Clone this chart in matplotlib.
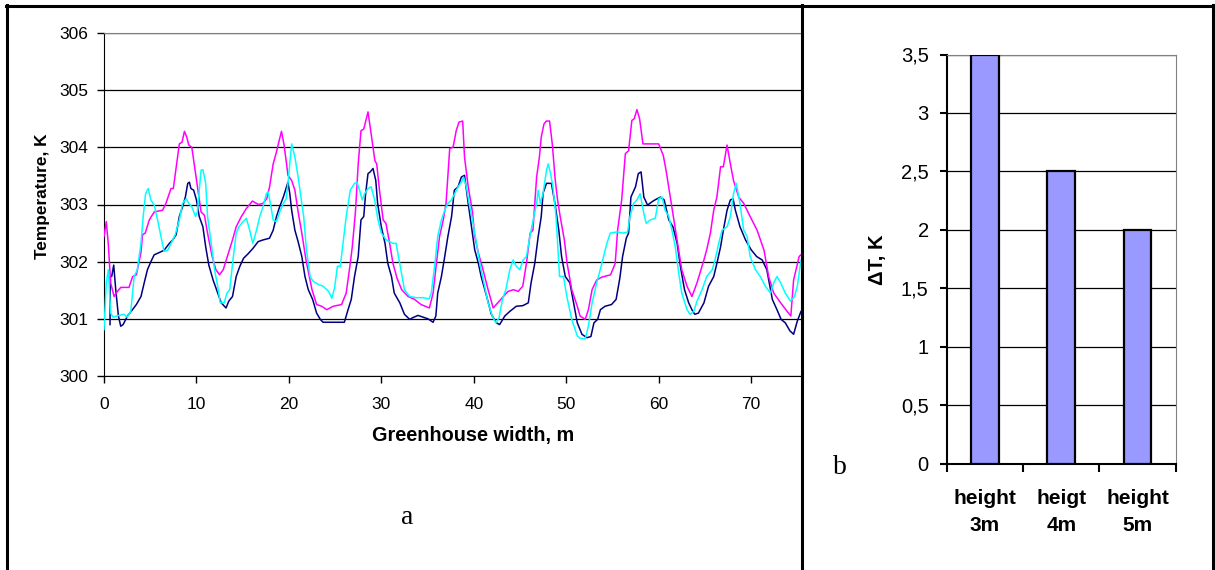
import matplotlib
matplotlib.use("Agg")
import matplotlib.pyplot as plt
from matplotlib.lines import Line2D

plt.rcParams['font.family'] = ['Liberation Sans', 'DejaVu Sans']

# ---------------- data: panel a ----------------
x_magenta = [0, 0.25, 0.47, 0.72, 1.09, 1.45, 1.81, 2.7, 3.1, 3.5, 3.99, 4.17, 4.46, 4.9, 5.43, 6.34, 6.7, 7.25, 7.5,
             8.15, 8.44, 8.7, 8.95, 9.17, 9.5, 9.96, 10.5, 10.87, 11.2, 11.7, 12.1, 12.5, 12.9, 13.4, 13.9, 14.3, 14.86,
             15.4, 16.05, 16.7, 17.2, 17.6, 17.9, 18.3, 18.66, 18.95, 19.2, 19.46, 19.75, 19.9, 20.3, 20.65, 21.0, 21.4,
             21.85, 22.5, 23.0, 23.55, 24.1, 24.8, 25.7, 26.2, 26.6, 26.86, 27.2, 27.5, 27.8, 28.1, 28.56, 28.8, 29.0,
             29.3, 29.5, 29.8, 30.2, 30.5, 30.9, 31.26, 31.7, 32.2, 32.9, 33.6, 34.3, 35.2, 35.6, 35.96, 36.3, 36.7,
             37.0, 37.4, 37.76, 38.1, 38.4, 38.8, 39.0, 39.4, 39.86, 40.1, 40.5, 41.0, 41.55, 42.1, 42.6, 43.2, 43.7,
             44.3, 44.8, 45.3, 45.7, 46.1, 46.4, 46.8, 47.1, 47.3, 47.6, 47.85, 48.2, 48.5, 48.8, 49.05, 49.35, 49.8,
             50.1, 50.6, 51.2, 51.5, 52.06, 52.4, 52.8, 53.3, 53.86, 54.8, 55.3, 55.56, 56.0, 56.4, 56.75, 57.1, 57.36,
             57.65, 57.94, 58.3, 59.1, 60.0, 60.5, 60.8, 61.26, 61.6, 62.06, 62.5, 63.07, 63.6, 64.15, 64.9, 65.2,
             65.6, 65.96, 66.3, 66.7, 67.0, 67.4, 67.76, 68.1, 68.66, 69.2, 69.9, 70.65, 71.4, 71.9, 72.45, 73.2,
             73.9, 74.3, 74.6, 75.2, 75.4]
t_magenta = [302.44, 302.70, 302.3, 301.63, 301.39, 301.48, 301.55, 301.55, 301.74, 301.77, 302.15, 302.47, 302.50,
             302.73, 302.87, 302.9, 303.02, 303.28, 303.28, 304.06, 304.09, 304.28, 304.18, 304.04, 304.0, 303.48,
             302.87, 302.81, 302.5, 302.09, 301.86, 301.77, 301.86, 302.12, 302.38, 302.61, 302.79, 302.93, 303.06,
             303.0, 303.02, 303.1, 303.3, 303.71, 303.92, 304.12, 304.28, 304.06, 303.71, 303.51, 303.42, 303.25,
             302.87, 302.5, 302.03, 301.51, 301.25, 301.22, 301.16, 301.22, 301.25, 301.45, 301.92, 302.26, 302.87,
             303.71, 304.29, 304.32, 304.62, 304.35, 304.12, 303.77, 303.71, 303.25, 302.73, 302.67, 302.32, 301.97,
             301.71, 301.51, 301.39, 301.34, 301.25, 301.19, 301.45, 301.97, 302.44, 302.73, 303.02, 303.98, 304.0,
             304.29, 304.44, 304.46, 303.83, 303.31, 302.87, 302.44, 302.15, 301.86, 301.51, 301.19, 301.28, 301.39,
             301.48, 301.51, 301.48, 301.57, 301.97, 302.5, 302.55, 303.48, 303.83, 304.18, 304.41, 304.46, 304.46,
             304.05, 303.45, 303.1, 302.79, 302.38, 301.97, 301.51, 301.22, 301.05, 300.99, 301.16, 301.51, 301.68,
             301.73, 301.77, 301.97, 302.55, 303.08, 303.89, 303.94, 304.47, 304.5, 304.66, 304.5, 304.06, 304.06,
             304.06, 303.86, 303.6, 303.13, 302.79, 302.32, 301.86, 301.57, 301.39, 301.63, 302.03, 302.21, 302.5,
             302.9, 303.13, 303.66, 303.66, 304.04, 303.71, 303.42, 303.13, 303.02, 302.79, 302.55, 302.2, 301.74,
             301.45, 301.28, 301.13, 301.05, 301.68, 302.09, 302.12]

x_navy = [0.65, 0.68, 0.83, 1.05, 1.27, 1.56, 1.81, 2.07, 2.54, 3.08, 3.5, 4.0, 4.35, 4.7, 5.07, 5.43, 5.98, 6.5, 7.07,
          7.43, 7.8, 8.15, 8.5, 8.8, 9.06, 9.24, 9.4, 9.7, 10.0, 10.3, 10.7, 11.0, 11.34, 11.8, 12.3, 12.68, 13.2, 13.5,
          13.9, 14.3, 14.7, 15.1, 15.6, 16.1, 16.67, 17.2, 17.9, 18.3, 18.66, 19.0, 19.4, 19.75, 19.9, 20.1, 20.3,
          20.65, 21.0, 21.4, 21.74, 22.1, 22.57, 23.0, 23.4, 23.7, 26.0, 26.4, 26.75, 27.1, 27.5, 27.8, 28.1, 28.3,
          28.56, 28.8, 29.1, 29.4, 29.6, 30.0, 30.4, 30.7, 31.1, 31.4, 32.0, 32.5, 33.07, 33.4, 33.97, 34.5, 35.05,
          35.6, 35.9, 36.1, 36.5, 36.86, 37.2, 37.6, 37.9, 38.3, 38.66, 39.0, 39.4, 39.75, 40.1, 40.5, 40.8, 41.4,
          41.9, 42.45, 42.8, 43.36, 43.9, 44.6, 45.3, 45.9, 46.2, 46.6, 46.97, 47.3, 47.5, 47.87, 48.4, 48.8, 49.2,
          49.5, 49.9, 50.4, 50.8, 51.2, 51.7, 52.24, 52.67, 53.0, 53.4, 53.7, 54.2, 54.9, 55.4, 55.8, 56.1, 56.5,
          56.75, 57.0, 57.5, 57.8, 58.1, 58.4, 58.8, 59.3, 59.6, 60.2, 60.6, 61.1, 61.55, 62.0, 62.35, 62.8, 63.25,
          63.6, 63.9, 64.3, 64.9, 65.4, 65.96, 66.3, 66.7, 67.0, 67.4, 67.76, 68.05, 68.3, 68.8, 69.4, 70.0, 70.6,
          71.2, 71.7, 72.3, 72.8, 73.25, 73.7, 74.2, 74.6, 75.0, 75.4]
t_navy = [300.90, 301.74, 301.74, 301.94, 301.51, 301.05, 300.87, 300.9, 301.05, 301.16, 301.25, 301.39, 301.63,
          301.86, 302.0, 302.12, 302.16, 302.2, 302.32, 302.38, 302.47, 302.79, 302.96, 303.13, 303.37, 303.39,
          303.28, 303.25, 303.08, 302.79, 302.61, 302.26, 301.94, 301.68, 301.45, 301.28, 301.19, 301.31, 301.39,
          301.74, 301.92, 302.06, 302.14, 302.23, 302.35, 302.38, 302.41, 302.55, 302.79, 302.96, 303.13, 303.31,
          303.39, 303.19, 302.9, 302.55, 302.35, 302.09, 301.74, 301.51, 301.34, 301.1, 300.99, 300.94, 300.94,
          301.16, 301.34, 301.74, 302.09, 302.73, 302.79, 303.19, 303.54, 303.57, 303.63, 303.42, 303.02, 302.61,
          302.32, 301.97, 301.74, 301.45, 301.28, 301.08, 300.99, 301.02, 301.06, 301.03, 301.0, 300.94, 301.05,
          301.45, 301.74, 302.09, 302.44, 302.79, 303.25, 303.31, 303.48, 303.51, 303.02, 302.61, 302.21, 301.97,
          301.74, 301.39, 301.08, 300.93, 300.9, 301.05, 301.13, 301.22, 301.23, 301.28, 301.63, 301.97, 302.44,
          302.79, 303.2, 303.37, 303.37, 303.0, 302.55, 302.09, 301.74, 301.63, 301.28, 300.93, 300.73, 300.67,
          300.69, 300.93, 300.99, 301.16, 301.22, 301.25, 301.34, 301.71, 302.09, 302.41, 302.5, 303.13, 303.31,
          303.54, 303.57, 303.13, 302.99, 303.05, 303.08, 303.13, 303.08, 302.73, 302.61, 302.32, 301.92, 301.51,
          301.28, 301.16, 301.08, 301.1, 301.28, 301.57, 301.74, 301.97, 302.26, 302.55, 302.9, 303.08, 303.1,
          302.9, 302.61, 302.38, 302.21, 302.09, 302.03, 301.86, 301.34, 301.16, 300.99, 300.93, 300.79, 300.73,
          300.96, 301.13]

x_cyan = [0, 0.25, 0.47, 0.72, 0.98, 1.63, 2.17, 2.5, 2.9, 3.26, 3.6, 4.0, 4.24, 4.5, 4.78, 5.07, 5.43, 5.8, 6.16, 6.5,
          6.9, 7.25, 7.7, 8.15, 8.5, 8.9, 9.17, 9.5, 9.9, 10.1, 10.5, 10.7, 11.0, 11.2, 11.6, 11.96, 12.3, 12.57, 13.0,
          13.3, 13.6, 13.95, 14.3, 14.6, 15.04, 15.4, 15.76, 16.1, 16.5, 16.85, 17.2, 17.57, 17.75, 18.0, 18.3, 18.66,
          19.0, 19.4, 19.7, 19.9, 20.3, 20.65, 21.0, 21.4, 21.6, 21.9, 22.3, 22.6, 23.2, 23.7, 24.3, 24.65, 24.95,
          25.25, 25.56, 25.85, 26.2, 26.64, 27.1, 27.36, 27.65, 27.94, 28.2, 28.56, 28.9, 29.28, 29.64, 30.0, 30.54,
          31.26, 31.6, 31.99, 32.5, 33.07, 33.8, 34.5, 35.16, 35.4, 35.8, 36.1, 36.5, 36.86, 37.2, 37.58, 37.94, 38.3,
          38.66, 38.9, 39.2, 39.5, 39.86, 40.3, 40.65, 41.1, 41.55, 42.0, 42.4, 42.74, 43.1, 43.47, 43.9, 44.26, 44.6,
          44.98, 45.34, 45.7, 46.06, 46.43, 46.8, 46.97, 47.2, 47.5, 47.87, 48.05, 48.3, 48.56, 48.9, 49.28, 49.7,
          50.07, 50.6, 51.2, 51.5, 52.06, 52.4, 52.8, 53.3, 53.86, 54.4, 54.77, 55.5, 56.2, 56.64, 56.9, 57.3, 57.65,
          58.0, 58.4, 58.66, 59.1, 59.64, 60.0, 60.36, 60.7, 61.1, 61.44, 61.8, 62.17, 62.5, 63.07, 63.4, 63.8, 64.15,
          64.7, 65.2, 65.8, 66.1, 66.5, 66.86, 67.4, 67.76, 68.1, 68.4, 68.8, 69.2, 69.57, 69.9, 70.47, 71.0, 71.55,
          72.1, 72.45, 72.8, 73.2, 73.7, 74.26, 74.7, 75.0, 75.4]
t_cyan = [300.81, 301.63, 301.86, 301.1, 301.03, 301.06, 301.08, 301.03, 301.13, 301.74, 301.86, 302.32, 302.79,
          303.19, 303.28, 303.08, 302.99, 302.73, 302.44, 302.18, 302.2, 302.32, 302.47, 302.73, 303.02, 303.1,
          303.02, 302.96, 302.79, 302.87, 303.6, 303.61, 303.37, 302.79, 302.32, 301.86, 301.57, 301.28, 301.28,
          301.45, 301.51, 302.03, 302.5, 302.61, 302.7, 302.76, 302.55, 302.32, 302.55, 302.79, 302.96, 303.19,
          303.22, 303.02, 302.73, 302.7, 302.87, 303.02, 303.1, 303.37, 304.06, 303.83, 303.48, 303.02, 302.79,
          302.21, 301.74, 301.66, 301.6, 301.57, 301.48, 301.36, 301.55, 301.92, 301.92, 302.32, 302.79, 303.25,
          303.37, 303.39, 303.25, 303.08, 303.19, 303.28, 303.31, 303.08, 302.73, 302.5, 302.38, 302.32, 302.32,
          301.97, 301.51, 301.39, 301.37, 301.37, 301.35, 301.45, 301.97, 302.44, 302.73, 302.9, 303.02, 303.08,
          303.19, 303.31, 303.39, 303.48, 303.31, 303.02, 302.73, 302.32, 301.97, 301.63, 301.28, 301.05, 300.93,
          301.02, 301.34, 301.51, 301.86, 302.03, 301.92, 301.86, 302.03, 302.09, 302.44, 302.73, 303.02, 303.25,
          303.02, 303.2, 303.6, 303.71, 303.55, 303.31, 302.79, 301.74, 301.74, 301.39, 300.99, 300.7, 300.66,
          300.65, 300.87, 301.28, 301.63, 301.97, 302.32, 302.5, 302.52, 302.5, 302.52, 302.79, 303.02, 303.08,
          303.19, 302.84, 302.67, 302.73, 302.76, 303.1, 303.13, 302.9, 302.79, 302.55, 302.26, 301.8, 301.45,
          301.16, 301.08, 301.13, 301.31, 301.51, 301.74, 301.86, 302.03, 302.32, 302.55, 302.61, 302.79, 303.19,
          303.37, 303.02, 302.55, 302.44, 302.09, 301.86, 301.74, 301.57, 301.45, 301.63, 301.74, 301.63, 301.45,
          301.31, 301.39, 301.57, 302.03]

# ---------------- data: panel b ----------------
bar_labels = ["height\n3m", "heigt\n4m", "height\n5m"]
bar_values = [3.5, 2.5, 2.0]
b_ticks = [0, 0.5, 1, 1.5, 2, 2.5, 3, 3.5]
b_tick_labels = ["0", "0,5", "1", "1,5", "2", "2,5", "3", "3,5"]

W, H = 1215, 570
fig = plt.figure(figsize=(W / 100, H / 100), dpi=100)

def fx(px):
    return px / W

def fy(py):
    return 1 - py / H

# ---------------- panel a ----------------
axa = fig.add_axes([fx(104), fy(376), fx(801) - fx(104), fy(33) - fy(376)])
axa.plot(x_navy, t_navy, color="#000080", lw=1.1, zorder=3)
axa.plot(x_magenta, t_magenta, color="#FF00FF", lw=1.1, zorder=3)
axa.plot(x_cyan, t_cyan, color="#00FFFF", lw=1.1, zorder=3)
axa.set_xlim(0, 75.4)
axa.set_ylim(300, 306)
axa.set_xticks(range(0, 80, 10))
axa.set_yticks(range(300, 307))
axa.grid(axis="y", color="black", lw=0.9)
axa.set_axisbelow(True)
axa.tick_params(direction="out", length=5, width=1, labelsize=12.5, colors="black")
axa.tick_params(axis="y", pad=6)
axa.tick_params(axis="x", pad=10)
for s in ("top", "right"):
    axa.spines[s].set_color("#808080")
for s in ("left", "bottom"):
    axa.spines[s].set_color("black")
axa.spines["right"].set_visible(False)
fig.text(fx(43), fy(196), "Temperature, K", rotation=90, ha="center", va="center",
         fontsize=12.4, fontweight="bold")
fig.text(fx(473), fy(435), "Greenhouse width, m", ha="center", va="center",
         fontsize=14.3, fontweight="bold")
fig.text(fx(407), fy(517), "a", ha="center", va="center", fontsize=20, family="Liberation Serif")

# ---------------- panel b ----------------
axb = fig.add_axes([fx(946.7), fy(463.6), fx(1175.7) - fx(946.7), fy(54.5) - fy(463.6)])
axb.bar(range(len(bar_values)), bar_values, width=0.36, color="#9999FF", edgecolor="black", lw=1.6, zorder=3)
axb.set_xlim(-0.5, 2.5)
axb.set_ylim(0, 3.5)
axb.set_yticks(b_ticks)
axb.set_yticklabels(b_tick_labels)
axb.set_xticks(range(len(bar_values)))
axb.set_xticklabels(bar_labels, fontweight="bold", fontsize=15, linespacing=1.55)
axb.set_xticks([-0.5, 0.5, 1.5, 2.5], minor=True)
axb.tick_params(axis="x", which="major", length=0, pad=18)
axb.tick_params(axis="x", which="minor", direction="out", length=5.5, width=1.5)
axb.tick_params(axis="y", direction="out", length=5, width=1.5, labelsize=14.5, pad=8)
axb.grid(axis="y", color="black", lw=0.9)
axb.set_axisbelow(True)
for s in ("top", "right"):
    axb.spines[s].set_color("#808080")
for s in ("left", "bottom"):
    axb.spines[s].set_color("black")
    axb.spines[s].set_linewidth(1.5)
fig.text(fx(877), fy(260), "ΔT, K", rotation=90, ha="center", va="center",
         fontsize=14.5, fontweight="bold")
fig.text(fx(840), fy(467), "b", ha="center", va="center", fontsize=20, family="Liberation Serif")

# ---------------- outer frame ----------------
frame_kw = dict(color="black", lw=2.2, transform=fig.transFigure)
fig.add_artist(Line2D([fx(6), fx(1213)], [fy(5.5), fy(5.5)], **frame_kw))
fig.add_artist(Line2D([fx(6.5), fx(6.5)], [fy(5), fy(571)], **frame_kw))
fig.add_artist(Line2D([fx(1212.5), fx(1212.5)], [fy(5), fy(571)], **frame_kw))
fig.add_artist(Line2D([fx(801.5), fx(801.5)], [fy(5), fy(571)], **frame_kw))

fig.savefig("out.png", dpi=100)
